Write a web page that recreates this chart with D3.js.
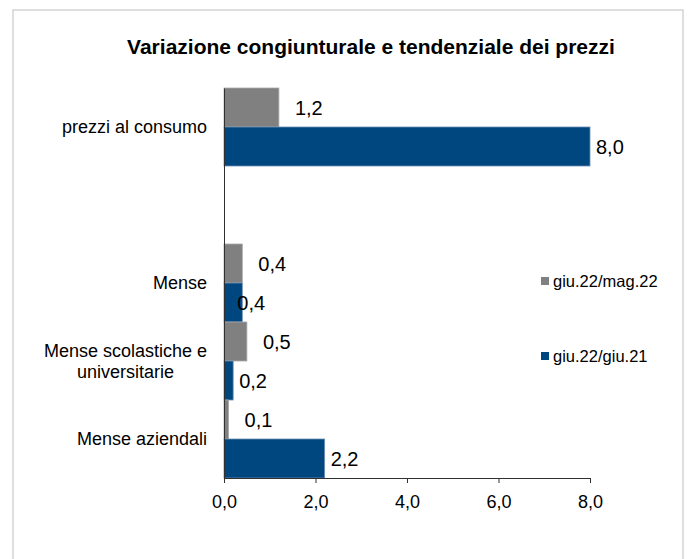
<!DOCTYPE html>
<head>
  <meta charset="utf-8">
  <script src="https://d3js.org/d3.v7.min.js"></script>
  <style>
    body { margin:0; background:#fff; }
    svg { display:block; font-family: "Liberation Sans", Arial, sans-serif; }
  </style>
</head>

<body>
  <script>
    // data
    var categories = ["prezzi al consumo", "", "Mense", "Mense scolastiche e universitarie", "Mense aziendali"];
    var seriesNames = ["giu.22/mag.22", "giu.22/giu.21"];
    var congiunturale = [1.2, null, 0.4, 0.5, 0.1];
    var tendenziale = [8.0, null, 0.4, 0.2, 2.2];
    var xTicks = [0, 2, 4, 6, 8];
    var colors = ["#808080", "#00467f"];

    var width = 695, height = 559;

    var svg = d3.select("body").append("svg")
        .attr("width", width)
        .attr("height", height);

    // outer frame
    svg.append("rect")
        .attr("x", 13).attr("y", 10)
        .attr("width", 670).attr("height", 560)
        .attr("fill", "none")
        .attr("stroke", "#d4d4d4")
        .attr("stroke-width", 1.5);

    svg.append("text")
        .attr("x", 371).attr("y", 54)
        .attr("text-anchor", "middle")
        .style("font-size", "21px")
        .style("font-weight", "bold")
        .text("Variazione congiunturale e tendenziale dei prezzi");

    var x = d3.scaleLinear().domain([0, 8]).range([224, 590]);
    var y = d3.scaleBand().domain(categories).range([88, 478]).padding(0);
    var ySub = d3.scaleBand().domain(seriesNames).range([0, y.bandwidth()]);

    var rows = [];
    categories.forEach(function(c, i) {
      [congiunturale, tendenziale].forEach(function(vals, s) {
        if (vals[i] != null) rows.push({ cat: c, series: seriesNames[s], s: s, value: vals[i] });
      });
    });

    svg.selectAll("rect.bar").data(rows)
      .enter().append("rect")
        .attr("class", "bar")
        .attr("x", x(0))
        .attr("y", function(d) { return y(d.cat) + ySub(d.series); })
        .attr("width", function(d) { return x(d.value) - x(0); })
        .attr("height", ySub.bandwidth())
        .attr("fill", function(d) { return colors[d.s]; })
        .attr("stroke", function(d) { return d.s ? "#6f8fb3" : "#a8a8a8"; })
        .attr("stroke-width", 0.8);

    // value labels: grey ones sit a bit further out; one blue label was pulled in
    var fmt = function(v) { return d3.format(".1f")(v).replace(".", ","); };
    svg.selectAll("text.val").data(rows)
      .enter().append("text")
        .attr("class", "val")
        .attr("x", function(d) {
          var dx = d.s ? 6 : 16;
          if (d.cat == "Mense" && d.s) dx = -5;
          return x(d.value) + dx;
        })
        .attr("y", function(d) { return y(d.cat) + ySub(d.series) + ySub.bandwidth() / 2; })
        .attr("dy", "0.36em")
        .style("font-size", "20px")
        .attr("fill", "#000")
        .text(function(d) { return fmt(d.value); });

    // x axis
    var xAxis = svg.append("g")
        .attr("transform", "translate(0," + 478 + ")")
        .call(d3.axisBottom(x).tickValues(xTicks).tickSize(5).tickSizeOuter(0).tickFormat(fmt));
    xAxis.select(".domain").attr("stroke", "#303030");
    xAxis.selectAll(".tick line").attr("stroke", "#303030");
    xAxis.selectAll("text")
        .attr("y", 24)
        .attr("dy", "0.36em")
        .style("font-size", "18px")
        .attr("fill", "#000")
        .attr("font-family", null);

    // y axis
    var yAxis = svg.append("g")
        .attr("transform", "translate(" + x(0) + ",0)")
        .call(d3.axisLeft(y).tickSize(0).tickPadding(17));
    yAxis.select(".domain").attr("stroke", "#303030");
    yAxis.selectAll("text")
        .style("font-size", "18px")
        .attr("fill", "#000")
        .attr("font-family", null)
        .each(function(d) {
          var t = d3.select(this);
          if (d == "Mense scolastiche e universitarie") {
            t.text(null).attr("dy", null).attr("text-anchor", "middle");
            var lines = ["Mense scolastiche e", "universitarie"];
            var spans = lines.map(function(l, i) {
              return t.append("tspan").attr("dy", i == 0 ? "-0.22em" : "1.17em").text(l);
            });
            var w = d3.max(spans, function(sp) { return sp.node().getComputedTextLength(); });
            spans.forEach(function(sp) { sp.attr("x", -17 - w / 2); });
          }
        });

    // legend
    var legend = svg.selectAll("g.leg").data(seriesNames)
      .enter().append("g")
        .attr("class", "leg")
        .attr("transform", function(d, i) { return "translate(541," + (281 + i * 75) + ")"; });
    legend.append("rect")
        .attr("x", 0).attr("y", -4)
        .attr("width", 8).attr("height", 8)
        .attr("fill", function(d, i) { return colors[i]; });
    legend.append("text")
        .attr("x", 12).attr("dy", "0.36em")
        .style("font-size", "16.5px")
        .text(function(d) { return d; });
  </script>
</body>

</html>
